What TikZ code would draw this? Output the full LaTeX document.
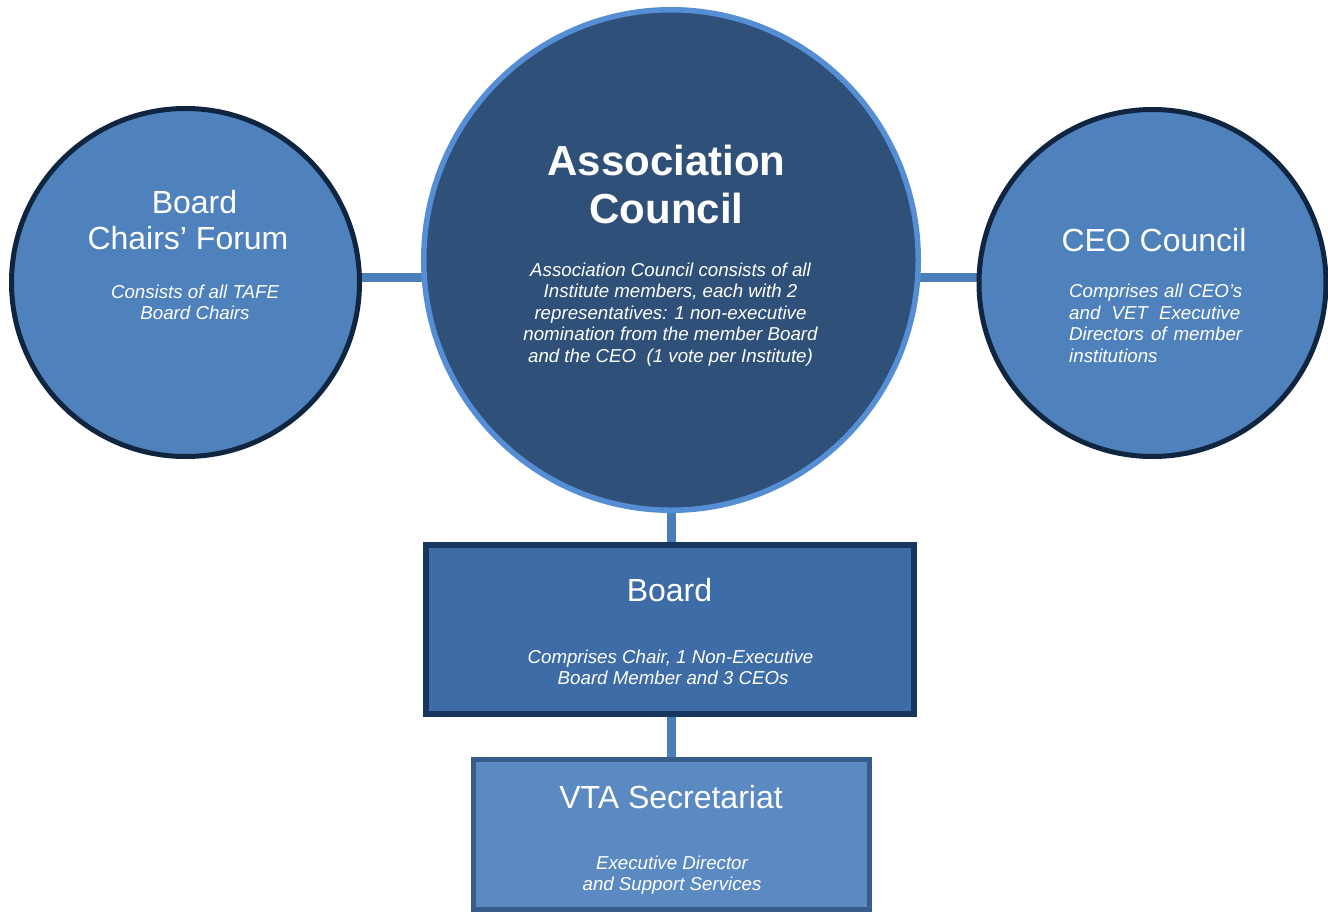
\documentclass[tikz,border=0pt]{standalone}
\usepackage{fontspec}
\setmainfont{Liberation Sans}
\usetikzlibrary{shapes.geometric,backgrounds}
\definecolor{circfill}{HTML}{4F81BD}
\definecolor{circline}{HTML}{10253F}
\definecolor{ctrfill}{HTML}{2F5079}
\definecolor{ctrline}{HTML}{558ED5}
\definecolor{conn}{HTML}{4A7EBB}
\definecolor{boardfill}{HTML}{3D6CA6}
\definecolor{boardline}{HTML}{17375E}
\definecolor{vtafill}{HTML}{5B89C2}
\definecolor{vtaline}{HTML}{385D8A}
\tikzset{
  sidecirc/.style={circle, draw=circline, fill=circfill, line width=5pt, inner sep=0pt},
  ctrcirc/.style={ellipse, draw=ctrline, fill=ctrfill, line width=5.5pt, inner sep=0pt},
  boardbox/.style={rectangle, draw=boardline, fill=boardfill, line width=6pt, inner sep=0pt},
  vtabox/.style={rectangle, draw=vtaline, fill=vtafill, line width=5pt, inner sep=0pt},
  connector/.style={draw=conn, line width=9pt},
  bigtitle/.style={text=white, inner sep=0pt, align=center, font=\fontsize{42}{48}\selectfont\bfseries},
  title/.style={text=white, inner sep=0pt, align=center, font=\fontsize{32}{36}\selectfont},
  desc/.style={text=white, inner sep=0pt, align=center, font=\fontsize{18.7}{21.5}\selectfont\itshape},
}
\begin{document}
\begin{tikzpicture}[x=1pt,y=-1pt]
\useasboundingbox (0,0) rectangle (1328,911);
% shapes
\node[sidecirc, minimum size=348pt] (bcf) at (185.5,282.5) {};
\node[sidecirc, minimum size=347pt] (ceo) at (1152.5,283) {};
\node[ctrcirc, minimum width=494.5pt, minimum height=500.5pt] (ac) at (671,260) {};
\node[boardbox, minimum width=488pt, minimum height=169pt] (board) at (670,629.5) {};
\node[vtabox, minimum width=396pt, minimum height=149.5pt] (vta) at (671.5,834.25) {};
% connectors
\coordinate (hy) at (0,277);
\begin{scope}[on background layer]
\draw[connector] (bcf.center |- hy) -- (ac.center |- hy);
\draw[connector] (ac.center |- hy) -- (ceo.center |- hy);
\draw[connector] (ac.south -| 671.5,0) -- (board.north -| 671.5,0);
\draw[connector] (board.south -| 671.5,0) -- (vta.north -| 671.5,0);
\end{scope}
% texts (anchor=base is the baseline of the last line)
\node[bigtitle, anchor=base] (actitle) at (666.5,223) {Association\\Council};
\node[desc, anchor=base] (acdesc) at (670.5,362) {Association Council consists of all\\Institute members, each with 2\\representatives: 1 non-executive\\nomination from the member Board\\and the CEO\ \ (1 vote per Institute)};
\node[title, anchor=base] (bcftitle) at (194.5,249.5) {Board\\Chairs’ Forum\kern13pt};
\node[desc, anchor=base] (bcfdesc) at (195,319.5) {Consists of all TAFE\\Board Chairs};
\node[title, anchor=base] (ceotitle) at (1154,251.5) {CEO Council};
\node[desc, align=left, anchor=base west] (ceodesc) at (1069,362) {\makebox[173pt][s]{Comprises all CEO’s}\\\makebox[171pt][s]{and VET Executive}\\\makebox[173pt][s]{Directors of member}\\institutions};
\node[title, anchor=base] (boardtitle) at (669.5,601.5) {Board};
\node[desc, anchor=base] (boarddesc) at (670.5,684.5) {Comprises Chair, 1 Non-Executive\\\kern5.2pt Board Member and 3 CEOs};
\node[title, anchor=base] (vtatitle) at (671,808.5) {VTA Secretariat};
\node[desc, anchor=base] (vtadesc) at (672,890.5) {Executive Director\\and Support Services};
\end{tikzpicture}
\end{document}
